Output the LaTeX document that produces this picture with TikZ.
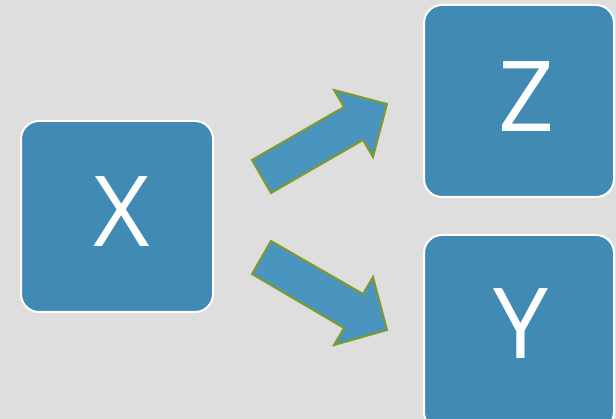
\documentclass[tikz,border=0pt]{standalone}
\usepackage{fontspec}
\setmainfont{Open Sans}
\definecolor{bg}{HTML}{DEDEDE}
\definecolor{boxblue}{HTML}{418AB3}
\definecolor{arrblue}{HTML}{4A94C0}
\definecolor{olive}{HTML}{7E9A2A}
\begin{document}
\begin{tikzpicture}[x=1pt,y=-1pt,
  box/.style={draw=white,line width=2pt,fill=boxblue,rounded corners=18pt},
  letter/.style={text=white,anchor=base,inner sep=0pt,font=\fontsize{98}{98}\selectfont},
  fatarrow/.style={draw=olive,line width=2pt,fill=arrblue,line join=miter}]
\useasboundingbox (0,0) rectangle (616,419);
\fill[bg] (0,0) rectangle (616,419);
\draw[box] (21,121) rectangle (213,312);
\draw[box] (424,5) rectangle (614,197);
\draw[box] (424,235) rectangle (614,430);
\node[letter] (x) at (122,247) {X};
\node[letter] (z) at (526.5,132) {Z};
\node[letter] (y) at (521,359) {Y};
\draw[fatarrow] (252,160) -- (271,193) -- (363,140) -- (373,157) -- (387,104) -- (334,90) -- (344,107) -- cycle;
\draw[fatarrow] (271,241) -- (252,274) -- (344,328) -- (334,345) -- (387,330) -- (373,277) -- (363,294) -- cycle;
\end{tikzpicture}
\end{document}
